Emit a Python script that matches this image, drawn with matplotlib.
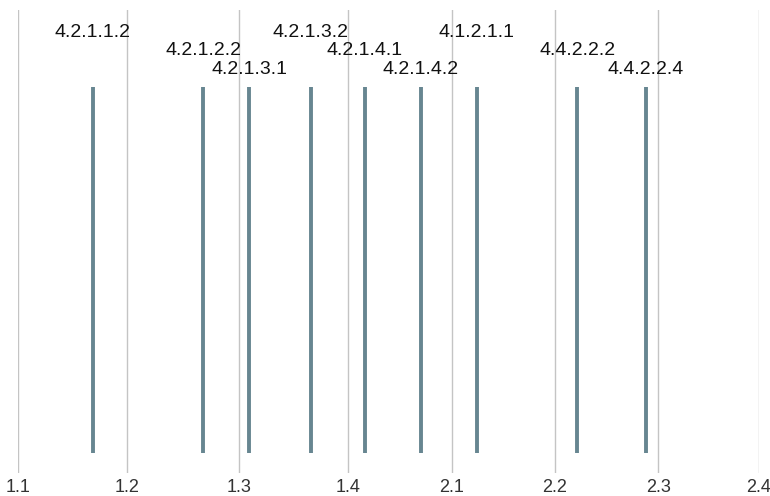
import matplotlib.pyplot as plt

# 刻度位置与标签
tick_pos = [0, 1.0, 2.025, 3.027, 3.976, 4.923, 5.871, 6.797]
tick_labels = ["1.1", "1.2", "1.3", "1.4", "2.1", "2.2", "2.3", "2.4"]

# 事件位置与名称
event_x = [0.683, 1.697, 2.119, 2.685, 3.181, 3.692, 4.206, 5.128, 5.756]
event_names = ["4.2.1.1.2", "4.2.1.2.2", "4.2.1.3.1", "4.2.1.3.2", "4.2.1.4.1",
               "4.2.1.4.2", "4.1.2.1.1", "4.4.2.2.2", "4.4.2.2.4"]

plt.rcParams['font.family'] = ['Liberation Sans', 'DejaVu Sans']

fig = plt.figure(figsize=(7.7, 4.96), dpi=100)
ax = fig.add_axes([18.3 / 770, 23 / 496, (759 - 18.3) / 770, 463 / 496])

ax.set_xlim(tick_pos[0], tick_pos[-1])
ax.set_ylim(0, 1)

for x in tick_pos:
    ax.axvline(x, color="#c4c4c4", lw=1, zorder=0)

ax.vlines(event_x, 0.043, 0.834, color="#678691", lw=2.8, zorder=2)

# 标签分三层错开
levels = [0.951, 0.9125, 0.871]
for i, (x, name) in enumerate(zip(event_x, event_names)):
    ax.text(x, levels[i % 3], name, ha="center", va="center",
            fontsize=14, color="#111111", zorder=3)

ax.set_xticks(tick_pos)
ax.set_xticklabels(tick_labels, fontsize=13, color="#333333")
ax.tick_params(axis="x", length=0, pad=4)
ax.set_yticks([])
for s in ax.spines.values():
    s.set_visible(False)

fig.savefig("out.png", dpi=100)
